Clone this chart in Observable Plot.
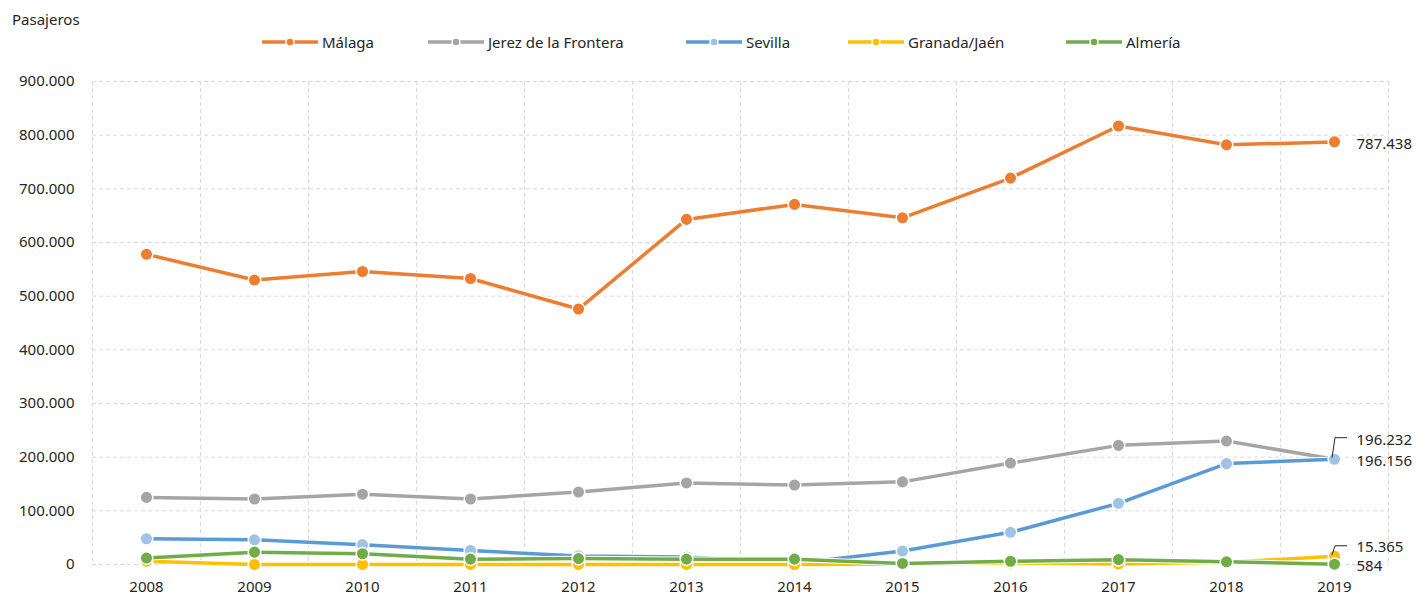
<!DOCTYPE html>
<html><head><meta charset="utf-8">
<script src="https://cdn.jsdelivr.net/npm/d3@7"></script>
<script src="https://cdn.jsdelivr.net/npm/@observablehq/plot@0.6"></script>
<style>
body{margin:0;background:#fff;font-family:"Noto Sans",sans-serif;color:#262626;}
#wrap{position:relative;width:1416px;height:596px;overflow:hidden;}
#title{position:absolute;left:12px;top:9px;font-size:15px;}
#legend{position:absolute;left:0;top:31px;width:1416px;height:22px;font-size:15px;line-height:22px;}
.item{position:absolute;top:0;display:flex;align-items:center;gap:4px;white-space:nowrap;}
#chart{position:absolute;left:0;top:62px;}
</style></head><body>
<div id="wrap"><div id="title">Pasajeros</div><div id="legend"></div><div id="chart"></div></div>
<script>
const years = [2008,2009,2010,2011,2012,2013,2014,2015,2016,2017,2018,2019];
const malaga   = [578000,530000,546000,533000,476000,643000,671000,646000,720000,817000,782000,787438];
const jerez    = [125000,122000,131000,122000,135000,152000,148000,154000,189000,222000,230000,196232];
const sevilla  = [48000,46000,37000,26000,16000,14000,2000,25000,60000,114000,188000,196156];
const granada  = [6000,0,0,0,0,0,0,1000,3000,1000,4000,15365];
const almeria  = [12000,23000,20000,10000,11000,10000,10000,2000,6000,9000,5000,584];
const seriesNames = ["Málaga","Jerez de la Frontera","Sevilla","Granada/Jaén","Almería"];
const yTicks = [0,100000,200000,300000,400000,500000,600000,700000,800000,900000];

const values = [malaga, jerez, sevilla, granada, almeria];
const lineColors = ["#ED7D31","#A5A5A5","#5B9BD5","#FFC000","#70AD47"];
const dotColors  = ["#ED7D31","#A5A5A5","#9DC3E6","#FFC000","#70AD47"];
const labelDy    = [2, -19, 2, -9, 2];
const legendLeft = [262, 428, 686, 848, 1066];

const fmt = d3.formatLocale({decimal:",",thousands:".",grouping:[3],currency:["","€"]}).format(",d");

const series = seriesNames.map((name,k)=>({
  name, color: lineColors[k], dot: dotColors[k], dy: labelDy[k],
  rows: years.map((y,i)=>({serie:name, year:y, value: values[k][i]}))
}));

// legend
const legend = d3.select("#legend");
series.forEach((s,k)=>{
  const it = legend.append("div").attr("class","item").style("left", legendLeft[k]+"px");
  const sv = it.append("svg").attr("width",56).attr("height",14);
  sv.append("line").attr("x1",0).attr("x2",56).attr("y1",7).attr("y2",7)
    .attr("stroke",s.color).attr("stroke-width",3.5);
  sv.append("circle").attr("cx",28).attr("cy",7).attr("r",4)
    .attr("fill",s.dot).attr("stroke","white").attr("stroke-width",1.5);
  it.append("span").text(s.name);
});

const boundaries = years.map(y=>y-0.5).concat([years[years.length-1]+0.5]);

const marks = [
  Plot.ruleY(yTicks, {stroke:"#d9d9d9", strokeDasharray:"4,3", strokeWidth:1}),
  Plot.ruleX(boundaries, {stroke:"#d9d9d9", strokeDasharray:"4,3", strokeWidth:1})
];
series.forEach(s=>{
  marks.push(Plot.line(s.rows, {x:"year", y:"value", stroke:"white", strokeWidth:5.5}));
  marks.push(Plot.line(s.rows, {x:"year", y:"value", stroke:s.color, strokeWidth:3.5}));
  marks.push(Plot.dot(s.rows, {x:"year", y:"value", r:6.3, fill:s.dot, stroke:"white", strokeWidth:1.5}));
});
series.forEach(s=>{
  const last = s.rows[s.rows.length-1];
  marks.push(Plot.text([last], {x:"year", y:"value", text:d=>fmt(d.value), dx:22, dy:s.dy,
    textAnchor:"start", fill:"#262626", fontSize:15}));
});

const plot = Plot.plot({
  width:1416, height:534,
  marginLeft:92, marginRight:28, marginTop:19, marginBottom:32,
  style:{fontFamily:"Noto Sans", fontSize:"15px", color:"#262626", background:"white", overflow:"visible"},
  x:{domain:[years[0]-0.5, years[years.length-1]+0.5], ticks:years, tickFormat:d=>String(d), tickSize:0, tickPadding:17, label:null},
  y:{domain:[0,900000], ticks:yTicks, tickFormat:fmt, tickSize:0, tickPadding:18, label:null},
  marks
});
document.getElementById("chart").appendChild(plot);

// leader lines for the close labels
const sx = plot.scale("x"), sy = plot.scale("y");
const svg = d3.select(plot);
[[1,-21],[3,-10]].forEach(([k,off])=>{
  const last = series[k].rows[series[k].rows.length-1];
  const px = sx.apply(last.year), py = sy.apply(last.value);
  svg.append("path")
    .attr("d", `M${px-2},${py-1}L${px+1},${py+off}H${px+13}`)
    .attr("fill","none").attr("stroke","#262626").attr("stroke-width",1);
});
</script>
</body></html>
